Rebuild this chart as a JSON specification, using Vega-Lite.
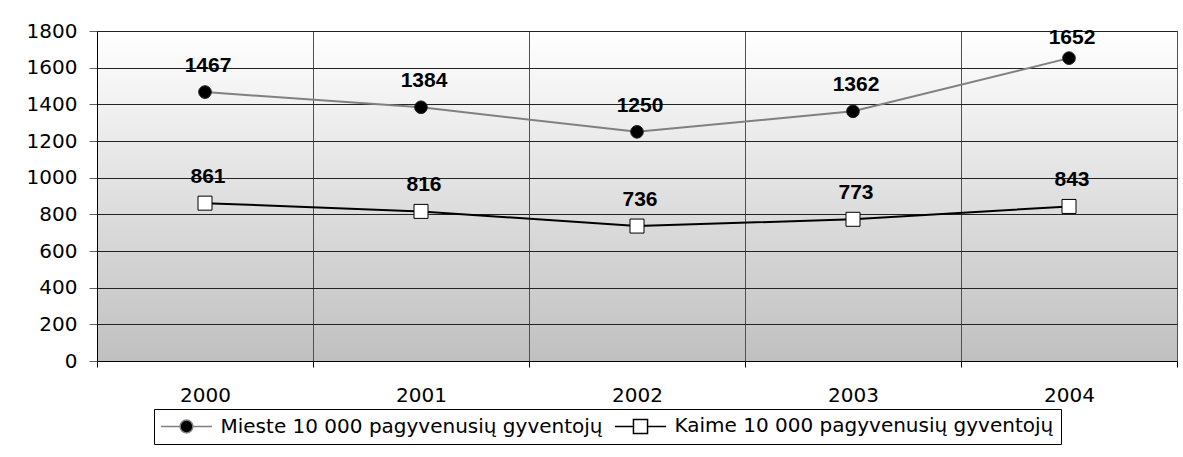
{
  "$schema": "https://vega.github.io/schema/vega-lite/v6.json",
  "width": 1080,
  "height": 330,
  "autosize": {"type": "none"},
  "padding": {"left": 97, "top": 31, "right": 6, "bottom": 96},
  "background": "white",
  "data": {
    "values": [
      {"year": "2000", "series": "Mieste 10 000 pagyvenusių gyventojų", "value": 1467},
      {"year": "2001", "series": "Mieste 10 000 pagyvenusių gyventojų", "value": 1384},
      {"year": "2002", "series": "Mieste 10 000 pagyvenusių gyventojų", "value": 1250},
      {"year": "2003", "series": "Mieste 10 000 pagyvenusių gyventojų", "value": 1362},
      {"year": "2004", "series": "Mieste 10 000 pagyvenusių gyventojų", "value": 1652},
      {"year": "2000", "series": "Kaime 10 000 pagyvenusių gyventojų", "value": 861},
      {"year": "2001", "series": "Kaime 10 000 pagyvenusių gyventojų", "value": 816},
      {"year": "2002", "series": "Kaime 10 000 pagyvenusių gyventojų", "value": 736},
      {"year": "2003", "series": "Kaime 10 000 pagyvenusių gyventojų", "value": 773},
      {"year": "2004", "series": "Kaime 10 000 pagyvenusių gyventojų", "value": 843}
    ]
  },
  "config": {
    "font": "DejaVu Sans",
    "view": {
      "stroke": "#808080",
      "strokeWidth": 1,
      "fill": {
        "gradient": "linear",
        "x1": 0, "y1": 0, "x2": 0, "y2": 1,
        "stops": [
          {"offset": 0, "color": "#ffffff"},
          {"offset": 1, "color": "#c0c0c0"}
        ]
      }
    },
    "axis": {
      "labelFont": "DejaVu Sans",
      "labelFontSize": 20,
      "labelColor": "#000000",
      "domainColor": "#000000",
      "domainWidth": 1,
      "tickColor": "#000000",
      "tickWidth": 1,
      "title": null
    }
  },
  "encoding": {
    "x": {
      "field": "year",
      "type": "nominal",
      "scale": {"type": "band", "paddingInner": 0, "paddingOuter": 0},
      "axis": {
        "labelAngle": 0,
        "labelFontSize": 20,
        "tickBand": "extent",
        "grid": true,
        "gridColor": "#505050",
        "gridWidth": 1,
        "tickSize": 6,
        "labelPadding": 18
      }
    },
    "y": {
      "field": "value",
      "type": "quantitative",
      "scale": {"domain": [0, 1800], "nice": false, "zero": true},
      "axis": {
        "values": [0, 200, 400, 600, 800, 1000, 1200, 1400, 1600, 1800],
        "format": "d",
        "labelFontSize": 20,
        "grid": true,
        "gridColor": "#222222",
        "gridWidth": 1,
        "tickSize": 8,
        "tickColor": "#606060",
        "labelPadding": 12
      }
    }
  },
  "layer": [
    {
      "mark": {"type": "line", "strokeWidth": 2},
      "encoding": {
        "color": {
          "field": "series",
          "type": "nominal",
          "scale": {
            "domain": ["Mieste 10 000 pagyvenusių gyventojų", "Kaime 10 000 pagyvenusių gyventojų"],
            "range": ["#808080", "#000000"]
          },
          "legend": {
            "orient": "none",
            "legendX": 57,
            "legendY": 378,
            "direction": "horizontal",
            "title": null,
            "strokeColor": "#000000",
            "fillColor": "#ffffff",
            "padding": 7,
            "labelFont": "DejaVu Sans",
            "labelFontSize": 20,
            "labelColor": "#000000",
            "labelLimit": 600,
            "symbolSize": 164,
            "symbolStrokeWidth": 1.5,
            "symbolOffset": 15.5,
            "labelOffset": 24,
            "columnPadding": 8,
            "encode": {
              "symbols": {
                "update": {
                  "shape": {"signal": "datum.value == 'Kaime 10 000 pagyvenusių gyventojų' ? 'M-4,0H-1.1M1.1,0H4M-1.1,-1.1H1.1V1.1H-1.1Z' : 'M-4,0H-1M1,0H4M-1,0A1,1,0,1,0,1,0A1,1,0,1,0,-1,0Z'"},
                  "fill": {"signal": "datum.value == 'Kaime 10 000 pagyvenusių gyventojų' ? '#ffffff' : '#000000'"},
                  "stroke": {"signal": "datum.value == 'Kaime 10 000 pagyvenusių gyventojų' ? '#000000' : '#808080'"},
                  "strokeWidth": {"value": 1.5},
                  "size": {"value": 164},
                  "opacity": {"value": 1}
                }
              }
            }
          }
        }
      }
    },
    {
      "transform": [{"filter": "datum.series == 'Mieste 10 000 pagyvenusių gyventojų'"}],
      "mark": {"type": "point", "shape": "circle", "filled": true, "fill": "#000000", "stroke": "#202020", "strokeWidth": 1, "size": 160, "opacity": 1}
    },
    {
      "transform": [{"filter": "datum.series == 'Kaime 10 000 pagyvenusių gyventojų'"}],
      "mark": {"type": "point", "shape": "square", "filled": true, "fill": "#ffffff", "stroke": "#000000", "strokeWidth": 1, "size": 196, "opacity": 1}
    },
    {
      "mark": {
        "type": "text",
        "font": "Liberation Sans",
        "fontWeight": "bold",
        "fontSize": 21,
        "color": "#000000",
        "align": "center",
        "baseline": "alphabetic",
        "dx": 3,
        "dy": {"expr": "datum.value > 1600 ? -14 : -20"}
      },
      "encoding": {
        "text": {"field": "value", "type": "quantitative"}
      }
    }
  ]
}
